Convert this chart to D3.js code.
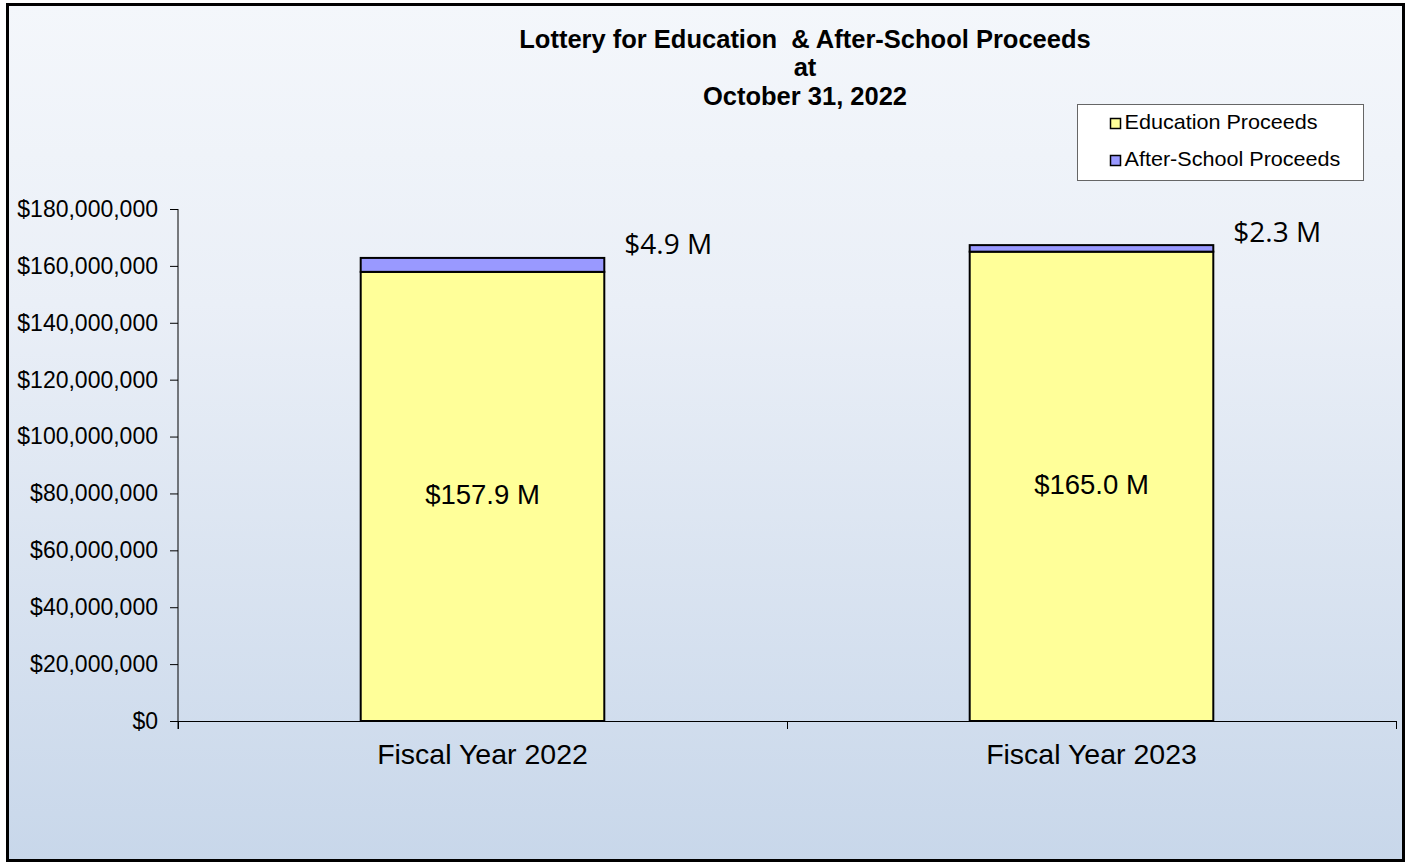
<!DOCTYPE html>
<html>
<head>
<meta charset="utf-8">
<script src="https://cdn.jsdelivr.net/npm/d3@7"></script>
<style>
  html, body { margin: 0; padding: 0; background: #ffffff; }
  svg { display: block; }
  .pre { white-space: pre; }
</style>
</head>
<body>
<svg id="chart" width="1413" height="863"></svg>
<script>
// ---- data ----
const categories = ["Fiscal Year 2022", "Fiscal Year 2023"];
const seriesNames = ["Education Proceeds", "After-School Proceeds"];
const educationProceeds = [157900000, 165000000];
const afterSchoolProceeds = [4900000, 2300000];
const educationLabels = ["$157.9 M", "$165.0 M"];
const afterSchoolLabels = ["$4.9 M", "$2.3 M"];
const yTicks = [0, 20000000, 40000000, 60000000, 80000000, 100000000, 120000000, 140000000, 160000000, 180000000];
const titleLines = ["Lottery for Education  & After-School Proceeds", "at", "October 31, 2022"];

// ---- layout ----
const W = 1413, H = 863;
const plot = { left: 178, right: 1396, top: 209, bottom: 721 };
const colors = { edu: "#FFFF99", after: "#9999FF" };
const svg = d3.select("#chart");

// background gradient
const defs = svg.append("defs");
const grad = defs.append("linearGradient").attr("id", "bg").attr("x1", 0).attr("y1", 0).attr("x2", 0).attr("y2", 1);
grad.append("stop").attr("offset", "0%").attr("stop-color", "#f4f7fb");
grad.append("stop").attr("offset", "35%").attr("stop-color", "#eaeff7");
grad.append("stop").attr("offset", "100%").attr("stop-color", "#c8d7ea");

svg.append("rect").attr("x", 7.5).attr("y", 4.5).attr("width", 1396).attr("height", 856)
  .attr("fill", "url(#bg)").attr("stroke", "#000").attr("stroke-width", 3);

// scales
const x = d3.scaleBand().domain(categories).range([plot.left, plot.right])
  .paddingInner(0.6).paddingOuter(0.3);
const y = d3.scaleLinear().domain([0, 180000000]).range([plot.bottom, plot.top]);

// y axis
const fmt = v => "$" + d3.format(",")(v);
const yAxis = svg.append("g").attr("transform", `translate(${plot.left},0)`)
  .call(d3.axisLeft(y).tickValues(yTicks).tickFormat(fmt).tickSize(8).tickPadding(12));
yAxis.select(".domain").attr("stroke", "#000").attr("d", `M0,${plot.top}V${plot.bottom + 8}`);
yAxis.selectAll(".tick line").attr("stroke", "#000");
yAxis.selectAll(".tick text").attr("font-family", "'Liberation Sans', Arial, sans-serif")
  .attr("font-size", 23).attr("fill", "#000");

// x axis line + ticks at band boundaries
const step = x.step();
const xAxisG = svg.append("g");
xAxisG.append("line").attr("x1", plot.left).attr("x2", plot.right)
  .attr("y1", plot.bottom + 0.5).attr("y2", plot.bottom + 0.5).attr("stroke", "#000");
const boundaries = [plot.left].concat(categories.map(c => x(c) - step * 0.3 + step));
xAxisG.selectAll("line.tk").data(boundaries).join("line").attr("class", "tk")
  .attr("x1", d => Math.round(d) + 0.5).attr("x2", d => Math.round(d) + 0.5)
  .attr("y1", plot.bottom).attr("y2", plot.bottom + 8).attr("stroke", "#000");
xAxisG.selectAll("text").data(categories).join("text")
  .attr("x", d => x(d) + x.bandwidth() / 2).attr("y", plot.bottom + 35)
  .attr("dominant-baseline", "middle").attr("text-anchor", "middle")
  .attr("font-family", "'Liberation Sans', Arial, sans-serif").attr("font-size", 28.5)
  .attr("fill", "#000").text(d => d);

// bars
const rows = categories.map((c, i) => ({ c, edu: educationProceeds[i], after: afterSchoolProceeds[i], i }));
const bars = svg.append("g");
bars.selectAll("rect.edu").data(rows).join("rect").attr("class", "edu")
  .attr("x", d => x(d.c)).attr("width", x.bandwidth())
  .attr("y", d => y(d.edu)).attr("height", d => y(0) - y(d.edu))
  .attr("fill", colors.edu).attr("stroke", "#000").attr("stroke-width", 2);
bars.selectAll("rect.after").data(rows).join("rect").attr("class", "after")
  .attr("x", d => x(d.c)).attr("width", x.bandwidth())
  .attr("y", d => y(d.edu + d.after)).attr("height", d => y(d.edu) - y(d.edu + d.after))
  .attr("fill", colors.after).attr("stroke", "#000").attr("stroke-width", 2);

// labels
bars.selectAll("text.edu").data(rows).join("text").attr("class", "edu")
  .attr("x", d => x(d.c) + x.bandwidth() / 2).attr("y", d => (y(0) + y(d.edu)) / 2)
  .attr("dominant-baseline", "middle").attr("text-anchor", "middle")
  .attr("font-family", "'Liberation Sans', Arial, sans-serif").attr("font-size", 27.5)
  .attr("fill", "#000").text(d => educationLabels[d.i]);
bars.selectAll("text.after").data(rows).join("text").attr("class", "after")
  .attr("x", d => x(d.c) + x.bandwidth() + 20).attr("y", d => y(d.edu + d.after) - 11)
  .attr("dominant-baseline", "middle").attr("text-anchor", "start")
  .attr("font-family", "'Open Sans', 'Noto Sans', sans-serif").attr("font-size", 28)
  .attr("fill", "#000").text(d => afterSchoolLabels[d.i]);

// title
svg.append("g").attr("transform", "translate(805,0)")
  .selectAll("text").data(titleLines).join("text").attr("class", "pre")
  .attr("x", 0).attr("y", (d, i) => 41 + i * 28.5)
  .attr("dominant-baseline", "middle").attr("text-anchor", "middle")
  .attr("font-family", "'Liberation Sans', Arial, sans-serif").attr("font-weight", "bold")
  .attr("font-size", 25.5).attr("fill", "#000").text(d => d);

// legend
const lg = svg.append("g").attr("transform", "translate(1077.5,104.5)");
lg.append("rect").attr("width", 286).attr("height", 76).attr("fill", "#fff").attr("stroke", "#666").attr("stroke-width", 1);
const items = lg.selectAll("g.item").data(seriesNames).join("g").attr("class", "item")
  .attr("transform", (d, i) => `translate(33,${19 + i * 37})`);
items.append("rect").attr("x", 0).attr("y", -5).attr("width", 10).attr("height", 10)
  .attr("fill", (d, i) => i === 0 ? colors.edu : colors.after).attr("stroke", "#000").attr("stroke-width", 1.5);
items.append("text").attr("x", 14).attr("y", 0).attr("dominant-baseline", "middle")
  .attr("transform", "scale(1.08,1)").attr("transform-origin", "14 0")
  .attr("font-family", "'Liberation Sans', Arial, sans-serif").attr("font-size", 20)
  .attr("fill", "#000").text(d => d);
</script>
</body>
</html>
